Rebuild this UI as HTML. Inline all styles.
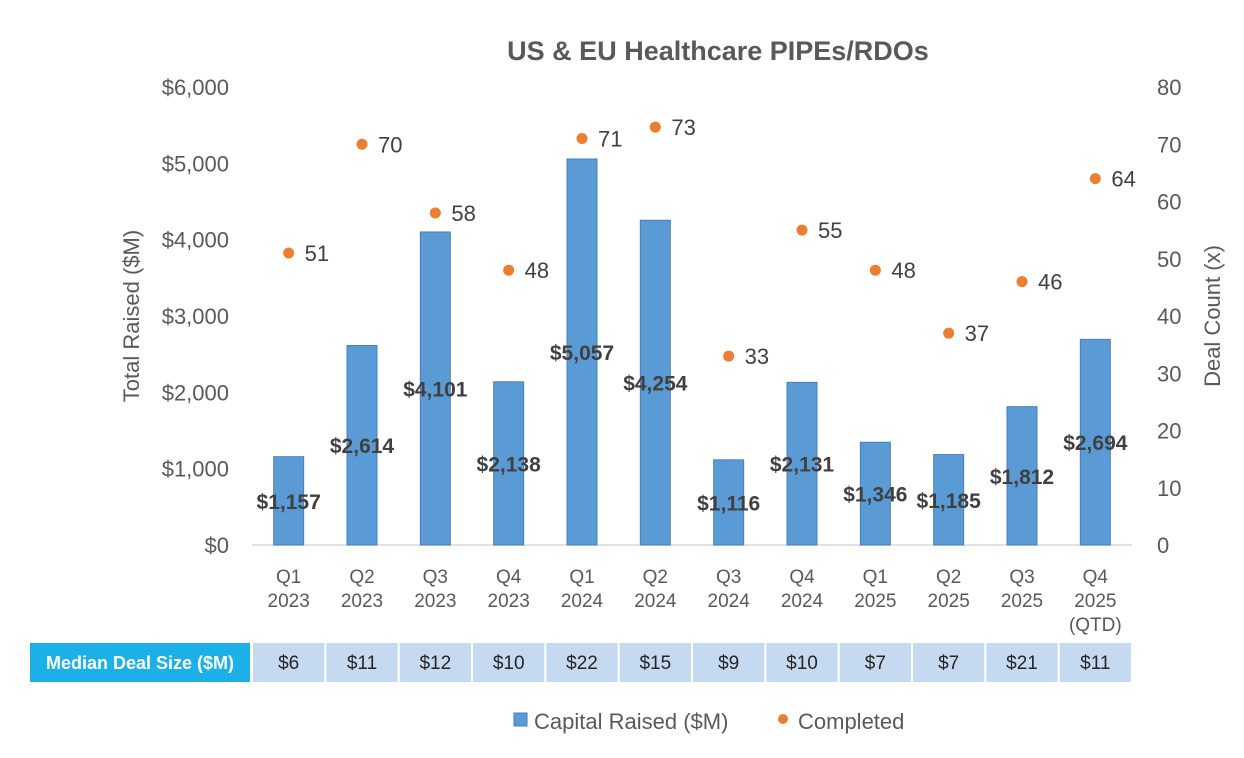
<!DOCTYPE html>
<html><head><meta charset="utf-8"><style>
body{margin:0;background:#fff;width:1244px;height:758px;overflow:hidden;font-family:"Liberation Sans",sans-serif}
</style></head><body>
<svg id="c" width="1244" height="758" style="position:absolute;left:0;top:0"></svg>
<script>
const categories=["Q1|2023","Q2|2023","Q3|2023","Q4|2023","Q1|2024","Q2|2024","Q3|2024","Q4|2024","Q1|2025","Q2|2025","Q3|2025","Q4|2025|(QTD)"];
const capitalRaised=[1157,2614,4101,2138,5057,4254,1116,2131,1346,1185,1812,2694];
const dealCount=[51,70,58,48,71,73,33,55,48,37,46,64];
const medianDealSize=["$6","$11","$12","$10","$22","$15","$9","$10","$7","$7","$21","$11"];
const leftTicks=[0,1000,2000,3000,4000,5000,6000];
const rightTicks=[0,10,20,30,40,50,60,70,80];
const NS="http://www.w3.org/2000/svg";
const svg=document.getElementById('c');
const X0=252,X1=1132,Y0=545,Y1=87;
const bw=(X1-X0)/categories.length;
const xC=i=>X0+bw*(i+0.5);
const yL=v=>Y0-(v/6000)*(Y0-Y1);
const yR=v=>Y0-(v/80)*(Y0-Y1);
function el(t,a,txt){const e=document.createElementNS(NS,t);for(const k in a)e.setAttribute(k,a[k]);if(txt!==undefined)e.textContent=txt;svg.appendChild(e);return e;}
const fmt=v=>"$"+v.toLocaleString("en-US");
let t=el('text',{x:718,y:60,'text-anchor':'middle','font-size':27,'font-weight':'bold',fill:'#595959'},'US & EU Healthcare PIPEs/RDOs');


leftTicks.forEach(v=>{const e=el('text',{x:229,y:yL(v)+8,'text-anchor':'end','font-size':22,fill:'#595959'},fmt(v));

});
rightTicks.forEach(v=>{const e=el('text',{x:1157,y:yR(v)+8,'font-size':22,fill:'#595959'},String(v));

});
t=el('text',{transform:'translate(139,316) rotate(-90)','text-anchor':'middle','font-size':22,fill:'#595959'},'Total Raised ($M)');


t=el('text',{transform:'translate(1220,316) rotate(-90)','text-anchor':'middle','font-size':22,fill:'#595959'},'Deal Count (x)');


t=el('line',{x1:X0,x2:X1,y1:Y0,y2:Y0,stroke:'#d9d9d9','stroke-width':1.5});


capitalRaised.forEach((v,i)=>{
 const b=el('rect',{x:xC(i)-15,y:yL(v),width:30,height:Y0-yL(v),fill:'#5b9bd5',stroke:'#4a7ebb','stroke-width':1});
 
 
 const l=el('text',{x:xC(i),y:yL(v)+(Y0-yL(v))/2+8,'text-anchor':'middle','font-size':21,'font-weight':'bold',fill:'#404040'},fmt(v));
 
 
 const d=el('circle',{cx:xC(i),cy:yR(dealCount[i]),r:5.5,fill:'#ed7d31'});
 
 
 const dl=el('text',{x:xC(i)+16,y:yR(dealCount[i])+8,'font-size':22,fill:'#404040'},String(dealCount[i]));
 
 
 categories[i].split('|').forEach((s,k)=>{const c=el('text',{x:xC(i),y:583+k*24,'text-anchor':'middle','font-size':19,fill:'#595959'},s);
 
 });
 const cell=el('rect',{x:X0+bw*i+1,y:643,width:bw-2,height:39,fill:'#c5d9f1'});
 
 
 const ct=el('text',{x:xC(i),y:669,'text-anchor':'middle','font-size':19,fill:'#262626'},medianDealSize[i]);
 
 
});
t=el('rect',{x:30,y:643,width:220,height:39,fill:'#1cb0e8'});


t=el('text',{x:140,y:669,'text-anchor':'middle','font-size':18,'font-weight':'bold',fill:'#ffffff'},'Median Deal Size ($M)');


t=el('rect',{x:514,y:713,width:13,height:13,fill:'#5b9bd5',stroke:'#4a7ebb'});


t=el('text',{x:534,y:729,'font-size':22,fill:'#595959'},'Capital Raised ($M)');


t=el('circle',{cx:783,cy:719,r:5,fill:'#ed7d31'});


t=el('text',{x:798,y:729,'font-size':22,fill:'#595959'},'Completed');


</script>
</body></html>
